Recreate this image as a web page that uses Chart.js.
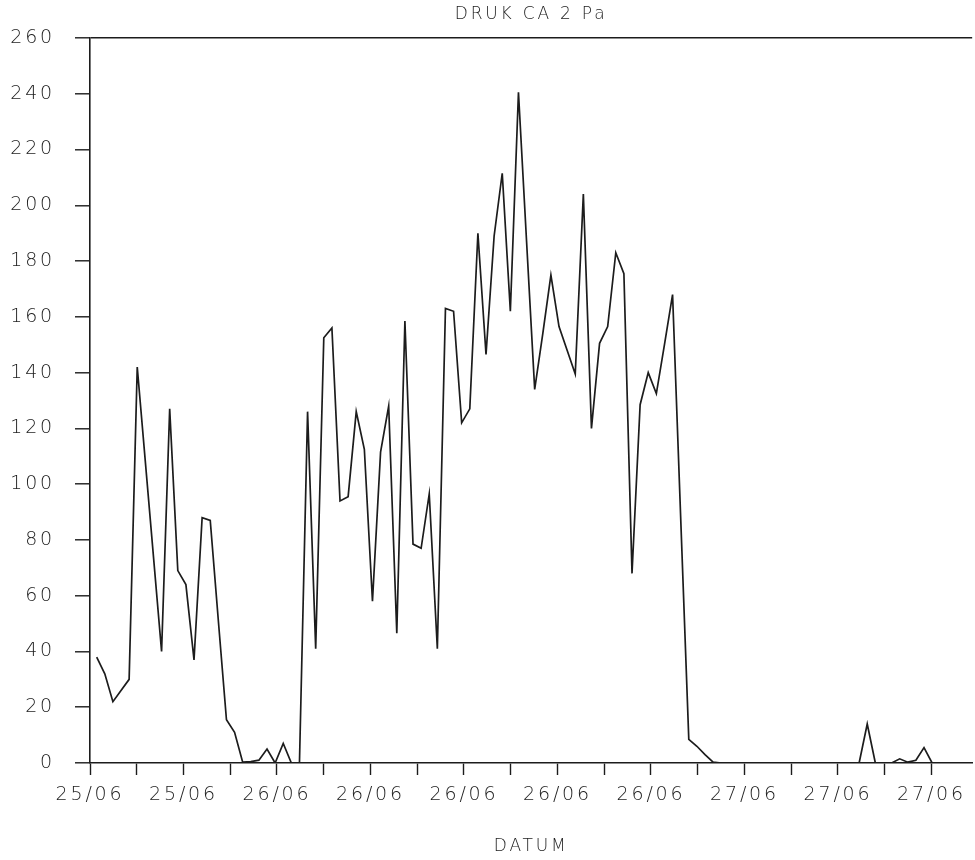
<!DOCTYPE html>
<html lang="nl">
<head>
  <meta charset="UTF-8" />
  <title>Druk CA 2</title>
  <script src="https://cdn.jsdelivr.net/npm/chart.js"></script>
  <style>
    body { margin: 0; background: #fff; }
    canvas { display: block; }
  </style>
</head>
<body>
<canvas id="druk" width="975" height="860"></canvas>
<script>
// date labels on every second tick of the time axis
const tickLabels = ['25/06', '25/06', '26/06', '26/06', '26/06', '26/06', '26/06', '27/06', '27/06', '27/06'];

// pressure readings (Pa), one per sample
const pressure = [
  38, 32, 22, 26, 30, 142, 108, 74, 40, 127,
  69, 64, 37, 88, 87, 51, 15.5, 11, 0.3, 0.5,
  1, 5, 0, 7, 0, 0, 126, 41, 152.5, 156,
  94, 95.5, 126, 112.5, 58, 111.5, 128, 46.5, 158.5, 78.5,
  77, 96.5, 41, 163, 162, 122, 127, 190, 146.5, 189,
  211.5, 162, 240.5, 187, 134, 154, 175, 156.5, 148, 139.5,
  204, 120, 150.5, 156.5, 183, 175.5, 68, 128.5, 140, 132.5,
  150, 168, 88, 8.5, 6, 3, 0.3, 0, 0, 0,
  0, 0, 0, 0, 0, 0, 0, 0, 0, 0,
  0, 0, 0, 0, 0, 14, 0, 0, 0, 1.5,
  0.3, 1, 5.5, 0
];

// samples are evenly spaced; x is measured in axis ticks
const firstSample = 0.143;
const sampleStep = 0.1735;
const tickCount = 19;

const ink = '#1c1c1c';
const font = { family: 'DejaVu Sans', size: 19, weight: '200' };

// wide plotter-style lettering
const spacing = {
  id: 'spacing',
  beforeLayout(chart) { chart.ctx.letterSpacing = '2.8px'; },
  beforeDraw(chart) { chart.ctx.letterSpacing = '2.8px'; }
};

new Chart(document.getElementById('druk'), {
  type: 'line',
  data: {
    datasets: [{
      data: pressure.map((v, i) => ({ x: firstSample + i * sampleStep, y: v })),
      borderColor: ink,
      borderWidth: 1.7,
      pointRadius: 0,
      tension: 0,
      fill: false
    }]
  },
  options: {
    responsive: false,
    animation: false,
    layout: { padding: 0 },
    plugins: {
      legend: { display: false },
      tooltip: { enabled: false },
      title: {
        display: true,
        text: 'DRUK CA 2 Pa',
        fullSize: false,
        color: ink,
        font: { family: 'DejaVu Sans', size: 17, weight: '200' },
        padding: { top: 4, bottom: 13.6 }
      }
    },
    scales: {
      x: {
        type: 'linear',
        min: 0,
        max: 18.87,
        // one tick per step, labels on the even ones
        afterBuildTicks: s => { s.ticks = Array.from({ length: tickCount }, (_, k) => ({ value: k })); },
        afterFit: s => { s.height = 97; },
        ticks: {
          autoSkip: false,
          maxRotation: 0,
          color: ink,
          font: font,
          padding: 9,
          callback: v => (v % 2 === 0 ? tickLabels[v / 2] : '')
        },
        grid: { drawOnChartArea: false, tickLength: 12, tickColor: ink, tickWidth: 1.4 },
        border: { color: ink, width: 1.6 },
        title: {
          display: true,
          text: 'DATUM',
          color: ink,
          font: { family: 'DejaVu Sans', size: 17, weight: '200' },
          padding: { top: 4, bottom: 3 }
        }
      },
      y: {
        min: 0,
        max: 260,
        afterFit: s => { s.width = 90; },
        ticks: { stepSize: 20, color: ink, font: font, padding: 20 },
        grid: {
          color: c => (c.tick && c.tick.value === 260 ? ink : 'transparent'),
          lineWidth: 1.6,
          tickLength: 15,
          tickColor: ink,
          tickWidth: 1.4
        },
        border: { color: ink, width: 1.6 }
      }
    }
  },
  plugins: [spacing]
});
</script>
</body>
</html>
